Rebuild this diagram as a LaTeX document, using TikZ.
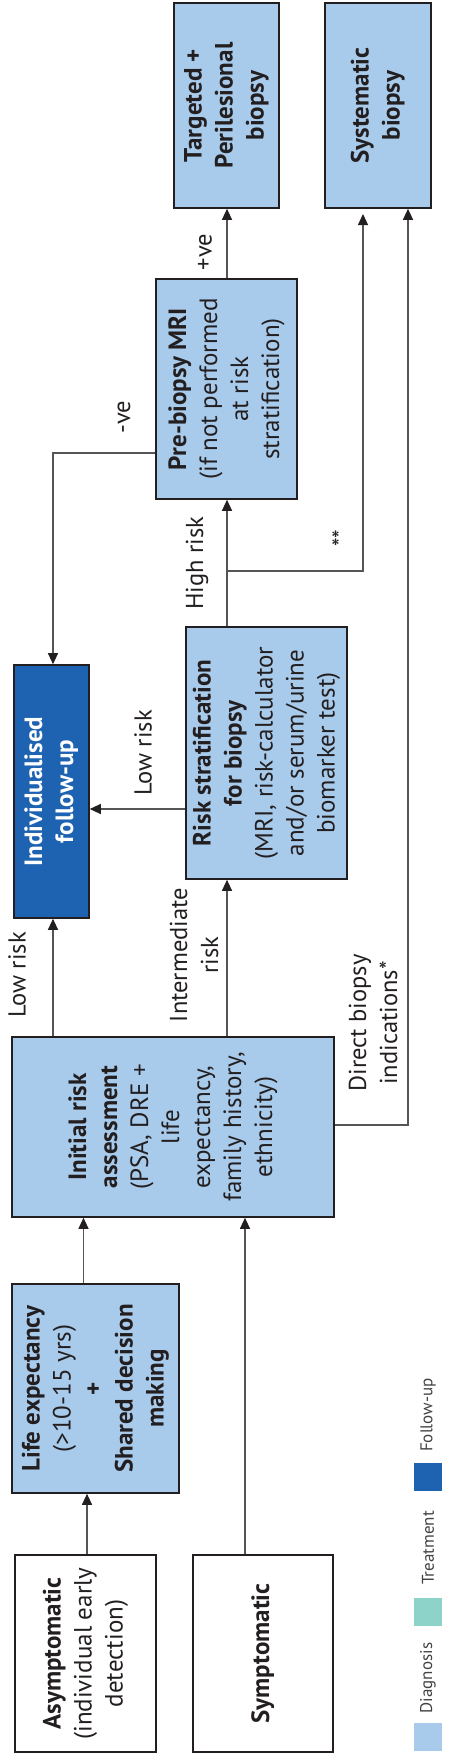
\documentclass[tikz,border=0pt]{standalone}
\usepackage{fontspec}
\setmainfont{PT Sans}
\usetikzlibrary{arrows.meta}
\definecolor{diag}{HTML}{A8CAEB}
\definecolor{follow}{HTML}{1E63B2}
\definecolor{treat}{HTML}{8ED3CA}
\definecolor{ink}{HTML}{231F20}
\definecolor{wire}{HTML}{555555}
\newcommand{\rt}[1]{\rotatebox{90}{\begin{tabular}{@{}c@{}}#1\end{tabular}}}
\tikzset{
  box/.style={draw=ink, line width=1.6pt, inner sep=0pt, text=ink,
    font=\fontsize{25}{31}\selectfont},
  diagbox/.style={box, fill=diag},
  whitebox/.style={box, fill=white},
  fubox/.style={box, fill=follow, text=white},
  arr/.style={draw=wire, line width=1.1pt, -{Triangle[length=11pt,width=10pt,color=ink]}},
  lbl/.style={text=ink, inner sep=0pt, font=\fontsize{24.5}{31}\selectfont},
  legsq/.style={minimum width=28pt, minimum height=28pt, inner sep=0pt},
  leglbl/.style={text=ink!85, inner sep=0pt, font=\fontsize{17}{20}\selectfont}
}
\begin{document}
\begin{tikzpicture}[x=1pt,y=-1pt]
\useasboundingbox (0,0) rectangle (451,1756);
% boxes
\node[diagbox, minimum width=105pt, minimum height=205pt] (tgt) at (226.5,105.5)
  {\rt{\textbf{Targeted +}\\\textbf{Perilesional}\\\textbf{biopsy}}};
\node[diagbox, minimum width=106pt, minimum height=205pt] (sys) at (378,105.5)
  {\rt{\textbf{Systematic}\\\textbf{biopsy}}};
\node[diagbox, minimum width=141pt, minimum height=220pt] (mri) at (226.5,389)
  {\rt{\textbf{Pre-biopsy MRI}\\(if not performed\\at risk\\stratification)}};
\node[fubox, minimum width=75pt, minimum height=253pt] (fu) at (51.5,791.5)
  {\rt{\textbf{Individualised}\\\textbf{follow-up}}};
\node[diagbox, minimum width=161pt, minimum height=252pt] (rs) at (266.5,753)
  {\rt{\textbf{Risk stratification}\\\textbf{for biopsy}\\(MRI, risk-calculator\\and/or serum/urine\\biomarker test)}};
\node[diagbox, minimum width=322pt, minimum height=180pt] (ira) at (173,1127)
  {\rt{\textbf{Initial risk}\\\textbf{assessment}\\(PSA, DRE +\\life\\expectancy,\\family history,\\ethnicity)}};
\node[diagbox, minimum width=167pt, minimum height=209pt] (le) at (95.5,1388.5)
  {\rt{\textbf{Life expectancy}\\(>10-15 yrs)\\\textbf{+}\\\textbf{Shared decision}\\\textbf{making}}};
\node[whitebox, minimum width=141pt, minimum height=197pt] (asy) at (85.5,1653.5)
  {\rt{\textbf{Asymptomatic}\\(individual early\\detection)}};
\node[whitebox, minimum width=140pt, minimum height=197pt] (sym) at (263,1653.5)
  {\rt{\textbf{Symptomatic}}};
% junction coordinates
\coordinate (jhr) at (227,571);
\coordinate (jss) at (363,571);
\coordinate (jsst) at (363,214);
\coordinate (jneg) at (53,453);
\coordinate (jdir) at (408,1125);
% connectors
\draw[arr] ([xshift=1.5pt]asy.north) -- ([xshift=1.5pt]asy.north |- le.south);
\draw[arr] ([xshift=-12pt]le.north) -- ([xshift=-12pt]le.north |- ira.south);
\draw[arr] ([xshift=-18pt]sym.north) -- ([xshift=-18pt]sym.north |- ira.south);
\draw[arr] (ira.north -| fu.south) ++(1.5pt,0) coordinate (a1) -- (a1 |- fu.south);
\draw[arr] (ira.north -| mri.south) ++(0.5pt,0) coordinate (a2) -- (a2 |- rs.south);
\draw[arr] (rs.west |- 0,809) -- (fu.east |- 0,809);
\draw[arr] (rs.north -| jhr) -- (mri.south -| jhr);
\draw[arr] (jhr) -- (jss) -- (jsst);
\draw[arr] (mri.west |- jneg) -- (jneg) -- (fu.north -| jneg);
\draw[arr] (mri.north -| jhr) -- (tgt.south -| jhr);
\draw[arr] (ira.east |- jdir) -- (jdir) -- (sys.south -| jdir);
% labels
\node[lbl, rotate=90] (l1) at (17,975) {Low risk};
\node[lbl, rotate=90, align=center] (l2) at (194,955) {Intermediate\\risk};
\node[lbl, rotate=90] (l3) at (143,753) {Low risk};
\node[lbl, rotate=90] (l4) at (197,563) {High risk};
\node[lbl, rotate=90] (l5) at (341,538) {**};
\node[lbl, rotate=90] (l6) at (124,417) {-ve};
\node[lbl, rotate=90] (l7) at (205,252) {+ve};
\node[lbl, rotate=90, align=center] (l8) at (373,1023) {Direct biopsy\\indications*};
% legend
\node[legsq, fill=diag] (sqd) at (428,1737) {};
\node[legsq, fill=treat] (sqt) at (428,1612) {};
\node[legsq, fill=follow] (sqf) at (428,1477) {};
\node[leglbl, rotate=90] (ld) at (428,1678) {Diagnosis};
\node[leglbl, rotate=90] (lt) at (428,1548) {Treatment};
\node[leglbl, rotate=90] (lf) at (428,1415) {Follow-up};
\end{tikzpicture}
\end{document}
